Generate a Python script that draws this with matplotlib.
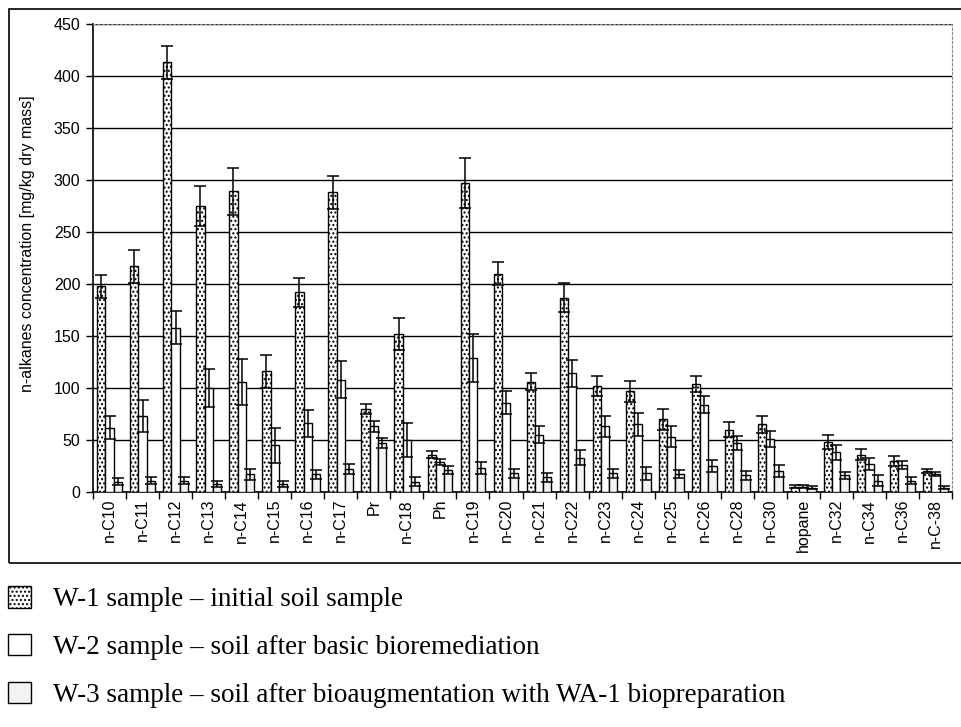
import numpy as np
import matplotlib
matplotlib.use("Agg")
import matplotlib.pyplot as plt
from matplotlib.patches import Rectangle

categories = ["n-C10", "n-C11", "n-C12", "n-C13", "n-C14", "n-C15", "n-C16", "n-C17",
              "Pr", "n-C18", "Ph", "n-C19", "n-C20", "n-C21", "n-C22", "n-C23", "n-C24",
              "n-C25", "n-C26", "n-C28", "n-C30", "hopane", "n-C32", "n-C34", "n-C36",
              "n-C-38"]

w1 = [198, 217, 413, 275, 289, 116, 192, 288, 80, 152, 36, 297, 210, 106, 187, 102, 97,
      70, 104, 60, 65, 5, 48, 36, 30, 20]
w1_err = [11, 16, 16, 19, 23, 16, 14, 16, 5, 15, 3, 24, 11, 8, 14, 10, 10,
          10, 8, 7, 8, 1.5, 7, 5.5, 5, 2]

w2 = [62, 73, 158, 100, 106, 45, 66, 108, 63, 50, 29, 129, 86, 55, 114, 63, 65,
      53, 84, 47, 51, 5, 38, 27, 26, 17]
w2_err = [11, 15, 16, 18, 22, 17, 13, 18, 5, 16, 3, 23, 11, 8, 13, 10, 11,
          10, 8, 7, 8, 1.5, 7, 6, 4, 2]

w3 = [10, 11, 11, 8, 17, 8, 17, 22, 47, 10, 21, 23, 18, 14, 33, 18, 18,
      17, 25, 16, 20, 4, 16, 11, 11, 4]
w3_err = [3.5, 3.5, 3, 3, 5, 3, 4.5, 5, 5, 4, 4, 6, 4.5, 4, 7, 4.5, 6,
          4, 6, 4, 5.5, 1.5, 3.5, 5, 3, 1.5]

labels = ["W-1 sample \u2013 initial soil sample",
          "W-2 sample \u2013 soil after basic bioremediation",
          "W-3 sample \u2013 soil after bioaugmentation with WA-1 biopreparation"]

plt.rcParams["font.family"] = ["Liberation Sans", "DejaVu Sans"]
plt.rcParams["hatch.linewidth"] = 1.0

fig = plt.figure(figsize=(9.61, 7.27), dpi=100)
ax = fig.add_axes([93 / 961, 1 - 492 / 727, (952 - 93) / 961, (492 - 24) / 727])

x = np.arange(len(categories))
bw = 0.25
err_kw = dict(ecolor="black", elinewidth=1.1, capsize=4, capthick=1.1)
b1 = ax.bar(x - bw, w1, bw, yerr=w1_err, facecolor="white", edgecolor="black",
            hatch="....", linewidth=1.0, error_kw=err_kw, zorder=3)
b2 = ax.bar(x, w2, bw, yerr=w2_err, facecolor="white", edgecolor="black",
            linewidth=1.0, error_kw=err_kw, zorder=3)
b3 = ax.bar(x + bw, w3, bw, yerr=w3_err, facecolor="#f3f3f3", edgecolor="black",
            linewidth=1.0, error_kw=err_kw, zorder=3)

ax.set_xlim(-0.5, len(categories) - 0.5)
ax.set_ylim(0, 450)
ax.set_yticks(np.arange(0, 451, 50))
ax.yaxis.grid(True, color="black", linewidth=1.0)
ax.set_axisbelow(True)

ax.set_xticks(x)
ax.set_xticklabels(categories, rotation=90, fontsize=11.5)
ax.tick_params(axis="x", which="major", length=0, pad=5)
ax.set_xticks(np.arange(-0.5, len(categories), 1), minor=True)
ax.tick_params(axis="x", which="minor", length=5, width=1, direction="out")
ax.tick_params(axis="y", labelsize=11.5, length=5, width=1, direction="out", pad=4)
ax.set_ylabel("n-alkanes concentration [mg/kg dry mass]", fontsize=11.5)
ax.yaxis.set_label_coords(-0.068, 0.53)

for s in ["left", "bottom"]:
    ax.spines[s].set_linewidth(1.2)
for s in ["top", "right"]:
    ax.spines[s].set_color("#888888")
    ax.spines[s].set_linestyle((0, (2, 2)))
    ax.spines[s].set_linewidth(0.8)

# outer frame around the chart area
fig.add_artist(Rectangle((9 / 961, 1 - 563 / 727), 1.0, (563 - 9) / 727,
                         transform=fig.transFigure, fill=False,
                         edgecolor="black", linewidth=1.2))

fig.legend([b1, b2, b3], labels, loc="upper left", bbox_to_anchor=(8 / 961, 1 - 586 / 727),
           frameon=False, prop={"family": ["Liberation Serif"], "size": 19.5},
           handlelength=0.85, handleheight=0.85, handletextpad=0.8,
           labelspacing=0.8, borderaxespad=0.0, borderpad=0.0)

fig.savefig("out.png", dpi=100)
